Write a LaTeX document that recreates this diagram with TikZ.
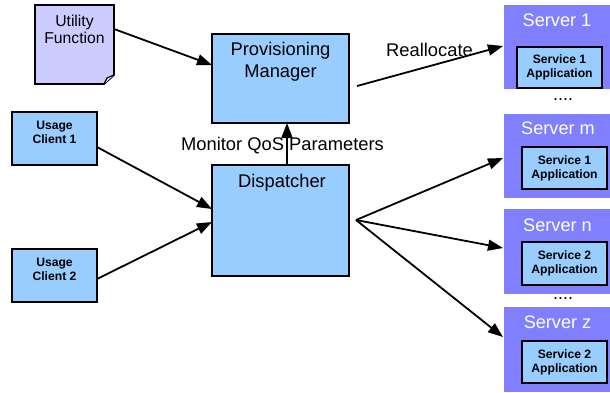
\documentclass[tikz,border=0pt]{standalone}
\usepackage{fontspec}
\setmainfont{Liberation Sans}
\usetikzlibrary{arrows.meta,calc}
\definecolor{boxblue}{HTML}{99CCFF}
\definecolor{srvblue}{HTML}{8080FF}
\definecolor{docviolet}{HTML}{CCCCFF}
\tikzset{
  blockbox/.style={draw=black, line width=1.7bp, fill=boxblue, inner sep=0pt, outer sep=0pt, anchor=north west},
  appbox/.style={draw=black, line width=1.5bp, fill=boxblue, inner sep=0pt, outer sep=0pt, anchor=north west,
    align=center, font=\fontsize{12.2}{14}\selectfont\bfseries},
  server/.style={fill=srvblue, inner sep=0pt, outer sep=0pt, anchor=north west, minimum width=106bp, minimum height=84bp},
  srvtitle/.style={anchor=base, text=white, inner sep=0pt, font=\fontsize{18.2}{21}\selectfont},
  bigtext/.style={align=center, inner sep=0pt, font=\fontsize{18.4}{22}\selectfont},
  smallbold/.style={align=center, inner sep=0pt, font=\fontsize{12.2}{14}\selectfont\bfseries},
  dots/.style={anchor=base, inner sep=0pt, font=\fontsize{18}{21}\selectfont},
  flow/.style={line width=1.8bp, -{Triangle[length=15bp,width=11bp]}},
}
\begin{document}
\begin{tikzpicture}[x=1bp,y=-1bp]
\useasboundingbox (0,0) rectangle (610,392);

% utility function document with folded corner
\node[inner sep=0pt, outer sep=0pt, anchor=north west, minimum width=79bp, minimum height=79bp] (util) at (35,5) {};
\draw[line width=1.7bp, fill=docviolet, line join=miter]
  (util.north west) -- (util.north east) -- ($(util.south east)+(0,-9)$)
  -- ($(util.south east)+(-10,0)$) -- (util.south west) -- cycle;
\draw[line width=1.2bp, fill=docviolet!60]
  ($(util.south east)+(-10,0)$) -- ($(util.south east)+(-7,-6)$) -- ($(util.south east)+(0,-9)$);
\node[align=center, inner sep=0pt, font=\fontsize{15.8}{17}\selectfont] (utiltext) at (74.5,29.5) {Utility\\Function};

% manager and dispatcher
\node[blockbox, minimum width=137bp, minimum height=89bp] (pm) at (212,34) {};
\node[bigtext] (pmtext) at (280.5,62) {Provisioning\\Manager};
\node[blockbox, minimum width=137bp, minimum height=111bp] (disp) at (212,165) {};
\node[bigtext, anchor=base] (disptext) at (282,187) {Dispatcher};

% clients
\node[blockbox, minimum width=85bp, minimum height=53bp] (c1) at (12,112) {};
\node[smallbold] (c1text) at (54.5,132) {Usage\\Client 1};
\node[blockbox, minimum width=85bp, minimum height=53bp] (c2) at (12,249) {};
\node[smallbold] (c2text) at (54.5,269.5) {Usage\\Client 2};

% servers
\node[server] (s1) at (504,5) {};
\node[srvtitle] (s1t) at (557,26) {Server 1};
\node[appbox, minimum width=85bp, minimum height=41bp] (a1) at (517,47) {Service 1\\Application};
\node[dots] (d1) at (563,100) {....};

\node[server] (sm) at (504,114) {};
\node[srvtitle] (smt) at (558,134) {Server m};
\node[appbox, minimum width=85bp, minimum height=42bp] (am) at (522,147) {Service 1\\Application};

\node[server, minimum height=85bp] (sn) at (504,209) {};
\node[srvtitle] (snt) at (557.5,231) {Server n};
\node[appbox, minimum width=85bp, minimum height=43bp] (an) at (522,242) {Service 2\\Application};
\node[dots] (d2) at (563,299) {....};

\node[server, minimum height=85bp] (sz) at (504,307) {};
\node[srvtitle] (szt) at (557.5,328) {Server z};
\node[appbox, minimum width=85bp, minimum height=42bp] (az) at (522,341) {Service 2\\Application};

% connectors
\draw[flow] ($(util.north east)+(0,24)$) -- ($(pm.north west)+(0,31)$);
\draw[flow] ($(c1.east)+(0,8.5)$) -- ($(disp.west)+(0,-11.5)$);
\draw[flow] ($(c2.east)+(0,3.5)$) -- ($(disp.west)+(0,1.5)$);
\draw[flow] ($(disp.north)+(6.5,0)$) -- ($(pm.south)+(6.5,0)$);
\node[bigtext, anchor=base] (monitor) at (282.5,150) {Monitor QoS Parameters};
\draw[flow] ($(pm.east)+(8,7.5)$) -- ($(s1.west)+(-1,-1)$);
\node[bigtext, anchor=base] (realloc) at (429.5,56) {Reallocate};
\coordinate (fan) at ($(disp.east)+(7,-0.5)$);
\draw[flow] (fan) -- ($(sm.west)+(-1,2)$);
\draw[flow] (fan) -- ($(sn.west)+(-1,-3.5)$);
\draw[flow] (fan) -- ($(sz.west)+(-1,-12.5)$);
\end{tikzpicture}
\end{document}
